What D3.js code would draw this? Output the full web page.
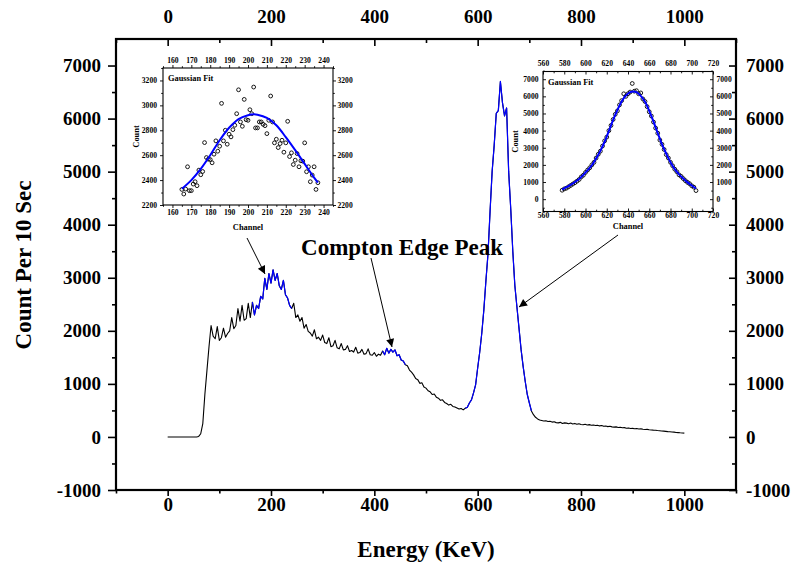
<!DOCTYPE html>
<html><head><meta charset="utf-8">
<script src="https://cdn.jsdelivr.net/npm/d3@7"></script>
<style>
body{margin:0;background:#fff}
svg{display:block}
text{font-family:"Liberation Serif","Times New Roman",serif;font-weight:bold;fill:#000}
</style>
</head><body>
<svg id="chart" width="792" height="566"></svg>
<script>
// ---------------- DATA ----------------
// Main spectrum: energy (keV) starts at 0, one reading every 4 keV
const spectrumStartE = 0;
const spectrumStepE = 4;
const spectrumCounts = [
  0,0,0,0,0,0,0,0,0,0,                              // 0-36
  0,0,0,0,0,10,60,250,800,1250,                     // 40-76
  1700,2100,1900,1850,2080,1820,1870,2050,1880,1950,// 80-116
  2000,2250,2040,2100,2420,2180,2480,2200,2230,2520,// 120-156
  2250,2540,2300,2480,2420,2650,2600,2990,2780,3080,// 160-196
  2900,3150,2950,3080,2850,2780,2950,2680,2620,2480,// 200-236
  2420,2520,2250,2300,2180,2250,2050,2120,1990,1960,// 240-276
  1900,2020,1850,1880,1820,1920,1780,1760,1870,1700,// 280-316
  1720,1820,1680,1660,1760,1640,1650,1720,1610,1630,// 320-356
  1600,1690,1580,1590,1650,1560,1570,1660,1550,1540,// 360-396
  1590,1520,1560,1540,1620,1550,1670,1580,1650,1600,// 400-436
  1640,1530,1550,1450,1430,1360,1340,1260,1220,1170,// 440-476
  1100,1080,1010,1020,940,920,870,850,800,810,      // 480-516
  750,730,690,700,650,630,600,615,575,565,          // 520-556
  545,525,535,510,540,560,640,700,830,980,          // 560-596
  1300,1600,1960,2400,2950,3450,4250,5000,5500,6100,// 600-636
  6150,6700,6300,6050,6200,5000,4300,3500,2850,2450,// 640-676
  2050,1650,1330,1050,800,640,490,420,370,340,      // 680-716
  320,310,300,305,290,295,280,285,270,265,          // 720-756
  275,255,265,260,250,262,245,255,240,250,          // 760-796
  235,230,238,225,232,220,225,215,220,208,          // 800-836
  215,200,205,195,200,190,185,190,178,182,          // 840-876
  172,175,165,170,160,162,155,158,150,152,          // 880-916
  145,140,142,135,132,128,125,120,118,112,          // 920-956
  110,105,100,98,92,90,85,82,78,75,                 // 960-996
  72                                                // 1000
];
// energy windows drawn in blue (fitted regions)
const fitWindows = [[164,240],[416,460],[576,704]];

// Main axis ticks
const xMajorTicks = [0,200,400,600,800,1000];
const xMinorTicks = [-100,100,300,500,700,900,1100];
const yMajorTicks = [-1000,0,1000,2000,3000,4000,5000,6000,7000];
const yMinorTicks = [-500,500,1500,2500,3500,4500,5500,6500];

// Left inset (channels 165..237, one per channel)
const leftInsetStartCh = 165;
const leftInsetCounts = [
  2325,2288,2328,2507,2315,2315,2368,2387,2355,2480,
  2443,2469,2701,2581,2568,2565,2539,2608,2715,2632,
  2672,3016,2715,2800,2688,2768,2747,2805,2840,2933,
  3125,2867,2832,3048,2885,2880,2965,2933,3147,2819,
  2819,2867,2867,2848,2837,2773,2880,3075,2867,2699,
  2728,2661,2693,2720,2624,2699,2872,2589,2619,2525,
  2560,2613,2507,2555,2552,2699,2467,2507,2387,2440,
  2507,2325,2379
];
const leftFitChannels = [165,170,175,180,185,190,195,200,203,205,210,215,220,225,230,235,237];
const leftFitCounts   = [2330,2400,2490,2600,2720,2820,2890,2920,2928,2925,2900,2840,2745,2640,2530,2420,2380];
const leftXTicks = [160,170,180,190,200,210,220,230,240];
const leftXMinor = [155,165,175,185,195,205,215,225,235,245];
const leftYTicks = [2200,2400,2600,2800,3000,3200];
const leftYMinor = [2300,2500,2700,2900,3100,3300];

// Right inset (channels 578..704, every 2 channels)
const rightInsetStartCh = 578;
const rightInsetStepCh = 2;
const rightInsetCounts = [
  520,600,640,720,800,880,960,1050,1150,1300,
  1400,1560,1700,1830,2000,2150,2400,2620,2800,3100,
  3400,3620,4000,4300,4650,4950,5150,5500,5750,6150,
  6000,6150,6250,6750,6300,6330,6150,6200,5850,5700,
  5400,5100,4850,4500,4150,3850,3450,3200,2900,2600,
  2400,2150,1950,1750,1600,1420,1330,1200,1080,980,
  900,780,700,500
];
const rightFitChannels = [578,582,586,590,594,598,602,606,610,614,618,622,626,630,634,638,642,645,648,652,656,660,664,668,672,676,680,684,688,692,696,700,704];
const rightFitCounts   = [560,700,830,1000,1180,1420,1690,1980,2380,2820,3350,3980,4630,5200,5700,6050,6250,6290,6240,6030,5680,5150,4520,3850,3200,2650,2150,1750,1450,1200,980,800,620];
const rightXTicks = [560,580,600,620,640,660,680,700,720];
const rightXMinor = [570,590,610,630,650,670,690,710];
const rightYTicks = [0,1000,2000,3000,4000,5000,6000,7000];
const rightYMinor = [-500,500,1500,2500,3500,4500,5500,6500,7500];

// Texts
const xTitle = "Energy (KeV)";
const yTitle = "Count Per 10 Sec";
const annotation = "Compton Edge Peak";
const insetTitle = "Gaussian Fit";
const insetXTitle = "Channel";
const insetYTitle = "Count";

// ---------------- DRAW ----------------
const svg = d3.select("#chart");
const FONT = '"Liberation Serif","Times New Roman",serif';
const BLUE = "#0000ff";
const plainFormat = d => String(d);   // "-1000", no thousands separator

function styleAxis(sel, fs, sw) {
  sel.attr("font-family", FONT).attr("font-size", fs).attr("font-weight", "bold");
  sel.select(".domain").remove();
  sel.selectAll("line").attr("stroke", "#000").attr("stroke-width", sw);
  sel.selectAll("text").attr("fill", "#000");
}
function addAxis(parent, gen, scale, vals, size, pad, fs, sw, labels, transform) {
  const a = gen(scale).tickValues(vals).tickSize(size).tickPadding(pad).tickSizeOuter(0)
    .tickFormat(labels ? plainFormat : "");
  const g = parent.append("g").attr("transform", transform).call(a);
  styleAxis(g, fs, sw);
  return g;
}

// main scales
const M = {l:116, r:736, t:39, b:490};
const x = d3.scaleLinear().domain([-100,1100]).range([M.l, M.r]);
const y = d3.scaleLinear().domain([-1000,7500]).range([M.b, M.t]);

const spectrum = spectrumCounts.map((c,i) => ({e: spectrumStartE + i*spectrumStepE, c}));
const line = d3.line().x(d => x(d.e)).y(d => y(d.c));

svg.append("path").datum(spectrum).attr("d", line)
  .attr("fill","none").attr("stroke","#000").attr("stroke-width",1.1).attr("stroke-linejoin","round");
fitWindows.forEach(([a,b]) => {
  svg.append("path").datum(spectrum.filter(d => d.e >= a && d.e <= b)).attr("d", line)
    .attr("fill","none").attr("stroke",BLUE).attr("stroke-width",1.2).attr("stroke-linejoin","round");
});

// main axes
const mainFs = 19;
addAxis(svg, d3.axisBottom, x, xMajorTicks, 6, 2, mainFs, 1.6, true, `translate(0,${M.b})`);
addAxis(svg, d3.axisBottom, x, xMinorTicks, 3.5, 2, mainFs, 1.6, false, `translate(0,${M.b})`);
addAxis(svg, d3.axisTop, x, xMajorTicks, -7, 16, mainFs, 1.6, true, `translate(0,${M.t})`);
addAxis(svg, d3.axisTop, x, xMinorTicks, -4, 16, mainFs, 1.6, false, `translate(0,${M.t})`);
addAxis(svg, d3.axisLeft, y, yMajorTicks, 8, 7, mainFs, 1.6, true, `translate(${M.l},0)`);
addAxis(svg, d3.axisLeft, y, yMinorTicks, 4, 7, mainFs, 1.6, false, `translate(${M.l},0)`);
addAxis(svg, d3.axisRight, y, yMajorTicks, -7, 10, mainFs, 1.6, true, `translate(${M.r},0)`);
addAxis(svg, d3.axisRight, y, yMinorTicks, -4, 10, mainFs, 1.6, false, `translate(${M.r},0)`);
svg.append("rect").attr("x",M.l).attr("y",M.t).attr("width",M.r-M.l).attr("height",M.b-M.t)
  .attr("fill","none").attr("stroke","#000").attr("stroke-width",2.2);

svg.append("text").attr("x",426).attr("y",557).attr("text-anchor","middle").attr("font-size",23).text(xTitle);
svg.append("text").attr("transform","translate(31,265) rotate(-90)").attr("text-anchor","middle").attr("font-size",23).text(yTitle);
svg.append("text").attr("x",402).attr("y",255).attr("text-anchor","middle").attr("font-size",23).text(annotation);

// arrows
const defs = svg.append("defs");
defs.append("marker").attr("id","ah").attr("viewBox","0 0 10 10").attr("refX",10).attr("refY",5)
  .attr("markerWidth",11).attr("markerHeight",8).attr("markerUnits","userSpaceOnUse").attr("orient","auto")
  .append("path").attr("d","M0,0 L10,5 L0,10 Z").attr("fill","#000");
const arrows = [[[247,238],[265,274]],[[371,258],[392,347]],[[618,235],[519,307]]];
arrows.forEach(([p0,p1]) => {
  svg.append("line").attr("x1",p0[0]).attr("y1",p0[1]).attr("x2",p1[0]).attr("y2",p1[1])
    .attr("stroke","#000").attr("stroke-width",1).attr("marker-end","url(#ah)");
});

// insets
function inset(o) {
  const g = svg.append("g");
  const sx = d3.scaleLinear().domain(o.xd).range([o.l, o.r]);
  const sy = d3.scaleLinear().domain(o.yd).range([o.b, o.t]);
  const fs = 7.6, sw = 0.9;
  addAxis(g, d3.axisBottom, sx, o.xt, o.ts, o.padB, fs, sw, true, `translate(0,${o.b})`);
  addAxis(g, d3.axisBottom, sx, o.xm, o.ts*0.6, o.padB, fs, sw, false, `translate(0,${o.b})`);
  addAxis(g, d3.axisTop, sx, o.xt, o.ts, o.padT, fs, sw, true, `translate(0,${o.t})`);
  addAxis(g, d3.axisTop, sx, o.xm, o.ts*0.6, o.padT, fs, sw, false, `translate(0,${o.t})`);
  addAxis(g, d3.axisLeft, sy, o.yt, o.ts, o.padL, fs, sw, true, `translate(${o.l},0)`);
  addAxis(g, d3.axisLeft, sy, o.ym, o.ts*0.6, o.padL, fs, sw, false, `translate(${o.l},0)`);
  addAxis(g, d3.axisRight, sy, o.yt, o.ts, o.padR, fs, sw, true, `translate(${o.r},0)`);
  addAxis(g, d3.axisRight, sy, o.ym, o.ts*0.6, o.padR, fs, sw, false, `translate(${o.r},0)`);
  g.append("rect").attr("x",o.l).attr("y",o.t).attr("width",o.r-o.l).attr("height",o.b-o.t)
    .attr("fill","none").attr("stroke","#000").attr("stroke-width",1.1);
  g.selectAll("circle.pt").data(o.pts).join("circle").attr("class","pt")
    .attr("cx", d => sx(d.ch)).attr("cy", d => sy(d.c)).attr("r", 1.9)
    .attr("fill","none").attr("stroke","#000").attr("stroke-width",0.9);
  g.append("path").datum(o.fit)
    .attr("d", d3.line().x(d => sx(d.ch)).y(d => sy(d.c)).curve(d3.curveCatmullRom))
    .attr("fill","none").attr("stroke",BLUE).attr("stroke-width",2);
  g.append("text").attr("x",o.l+5).attr("y",o.t+13).attr("font-size",8.4).text(insetTitle);
  g.append("text").attr("x",(o.l+o.r)/2).attr("y",o.chY).attr("text-anchor","middle").attr("font-size",8.4).text(insetXTitle);
  g.append("text").attr("transform",`translate(${o.cntX},${(o.t+o.b)/2}) rotate(-90)`).attr("text-anchor","middle").attr("font-size",8.4).text(insetYTitle);
}

inset({
  l:163, r:333, t:68, b:205, xd:[155,245], yd:[2200,3300],
  xt:leftXTicks, xm:leftXMinor, yt:leftYTicks, ym:leftYMinor, ts:3,
  padB:2, padT:2, padL:3, padR:1.5, chY:230, cntX:139,
  pts: leftInsetCounts.map((c,i) => ({ch: leftInsetStartCh + i, c})),
  fit: leftFitChannels.map((ch,i) => ({ch, c: leftFitCounts[i]}))
});
inset({
  l:543, r:713, t:71.5, b:211.5, xd:[560,720], yd:[-720,7450],
  xt:rightXTicks, xm:rightXMinor, yt:rightYTicks, ym:rightYMinor, ts:-3,
  padB:1.5, padT:5.5, padL:4.5, padR:3.5, chY:229, cntX:518,
  pts: rightInsetCounts.map((c,i) => ({ch: rightInsetStartCh + i*rightInsetStepCh, c})),
  fit: rightFitChannels.map((ch,i) => ({ch, c: rightFitCounts[i]}))
});
</script>
</body></html>
